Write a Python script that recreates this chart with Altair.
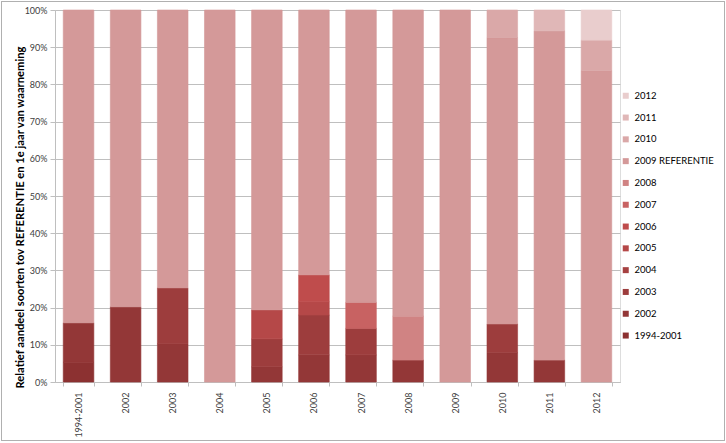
import altair as alt
import pandas as pd

categories = ["1994-2001", "2002", "2003", "2004", "2005", "2006",
              "2007", "2008", "2009", "2010", "2011", "2012"]
series = ["1994-2001", "2002", "2003", "2004", "2005", "2006", "2007",
          "2008", "2009 REFERENTIE", "2010", "2011", "2012"]
colors = ["#8C3131", "#933737", "#9D3D3D", "#A64141", "#B54848", "#BF4C4C",
          "#C86262", "#D08383", "#D49999", "#DAA8A8", "#E0B7B7", "#E9CDCD"]

s_1994_2001 = [5.3, 0, 0, 0, 0, 0, 0, 0, 0, 0, 0, 0]
s_2002 = [10.6, 20.2, 10.3, 0, 4.1, 7.3, 7.3, 5.9, 0, 7.9, 5.9, 0]
s_2003 = [0, 0, 15.0, 0, 7.5, 10.7, 7.1, 0, 0, 7.7, 0, 0]
s_2004 = [0, 0, 0, 0, 0, 0, 0, 0, 0, 0, 0, 0]
s_2005 = [0, 0, 0, 0, 7.8, 3.6, 0, 0, 0, 0, 0, 0]
s_2006 = [0, 0, 0, 0, 0, 7.2, 0, 0, 0, 0, 0, 0]
s_2007 = [0, 0, 0, 0, 0, 0, 7.0, 0, 0, 0, 0, 0]
s_2008 = [0, 0, 0, 0, 0, 0, 0, 11.8, 0, 0, 0, 0]
s_2009_ref = [84.1, 79.8, 74.7, 100, 80.6, 71.2, 78.6, 82.3, 100, 77.0, 88.5, 83.7]
s_2010 = [0, 0, 0, 0, 0, 0, 0, 0, 0, 7.4, 0, 8.2]
s_2011 = [0, 0, 0, 0, 0, 0, 0, 0, 0, 0, 5.6, 0]
s_2012 = [0, 0, 0, 0, 0, 0, 0, 0, 0, 0, 0, 8.1]

all_series = [s_1994_2001, s_2002, s_2003, s_2004, s_2005, s_2006, s_2007,
              s_2008, s_2009_ref, s_2010, s_2011, s_2012]

rows = []
for si, (name, vals) in enumerate(zip(series, all_series)):
    for ci, cat in enumerate(categories):
        if vals[ci] > 0:
            rows.append({"jaar": cat, "serie": name, "waarde": vals[ci], "idx": si})
df = pd.DataFrame(rows)

FONT = "Lato"
GRAY = "#BFBFBF"
color_scale = alt.Scale(domain=series[::-1], range=colors[::-1])

bars = alt.Chart(df).mark_bar(strokeWidth=0.6).encode(
    x=alt.X("jaar:N", sort=categories, title=None,
            scale=alt.Scale(paddingInner=0.35, paddingOuter=0.175),
            axis=alt.Axis(labelAngle=270, labelAlign="right", labelBaseline="middle",
                          labelFont=FONT, labelFontSize=9, labelColor="#404040",
                          labelPadding=6, tickBand="extent", tickSize=4,
                          tickColor=GRAY, domainColor=GRAY, grid=False)),
    y=alt.Y("waarde:Q", stack="zero",
            scale=alt.Scale(domain=[0, 100], nice=False),
            title="Relatief aandeel soorten tov REFERENTIE en 1e jaar van waarneming",
            axis=alt.Axis(values=list(range(0, 101, 10)),
                          labelExpr="datum.value + '%'",
                          labelFont=FONT, labelFontSize=9, labelColor="#404040",
                          labelPadding=3, tickSize=5, tickColor=GRAY,
                          domainColor=GRAY, gridColor=GRAY, grid=True,
                          titleFont=FONT, titleFontSize=11.2, titleFontWeight="bold",
                          titleColor="#000000", titleX=-35, titleY=207,
                          titleAngle=270, titleBaseline="middle", titleAlign="center")),
    color=alt.Color("serie:N", scale=color_scale,
                    legend=alt.Legend(title=None, orient="none", legendX=566, legendY=81,
                                      symbolType="square", symbolSize=36,
                                      symbolStrokeWidth=0, labelFont=FONT,
                                      labelFontSize=9.5, labelColor="#000000",
                                      rowPadding=10.8, labelOffset=4, padding=0)),
    stroke=alt.Stroke("serie:N", scale=color_scale, legend=None),
    order=alt.Order("idx:Q", sort="ascending"),
)

frame = alt.Chart(df).mark_rect(fill=None, stroke="#B0B0B0", strokeWidth=1, clip=False).encode(
    x=alt.value(-53.5), x2=alt.value(669.5), y=alt.value(-8.5), y2=alt.value(430.5)
)

chart = alt.layer(bars, frame).properties(
    width=565, height=372,
    autosize=alt.AutoSizeParams(type="none"),
    padding={"left": 55, "top": 10, "right": 106, "bottom": 61},
).configure_view(stroke=None).configure(background="#FFFFFF")

chart.save("out.html", embed_options={"renderer": "svg", "actions": False})
